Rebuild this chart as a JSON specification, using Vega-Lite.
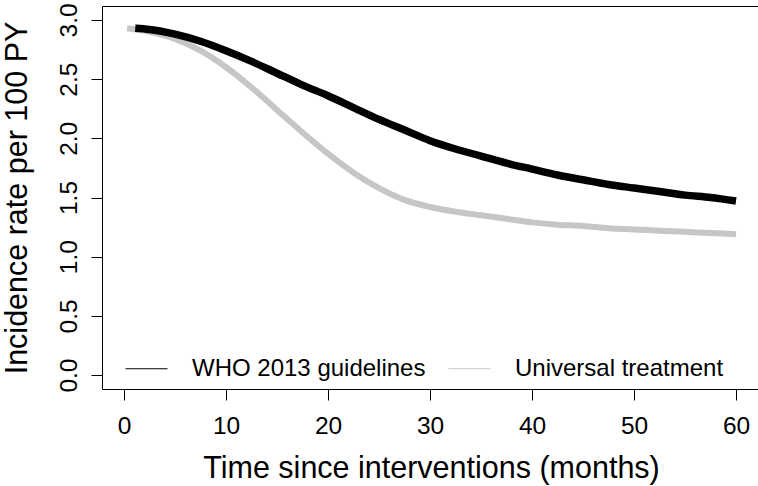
{
  "$schema": "https://vega.github.io/schema/vega-lite/v6.json",
  "width": 658,
  "height": 383,
  "autosize": {"type": "none"},
  "padding": {"left": 102, "top": 6, "right": 0, "bottom": 97},
  "background": "white",
  "config": {
    "view": {"stroke": "black", "strokeWidth": 1},
    "font": "Liberation Sans",
    "axis": {
      "grid": false,
      "domain": false,
      "tickColor": "black",
      "tickWidth": 1,
      "tickSize": 11,
      "labelColor": "black",
      "titleColor": "black",
      "labelFont": "Liberation Sans",
      "titleFont": "Liberation Sans",
      "labelFontSize": 24.5,
      "titleFontSize": 30.5,
      "titleFontWeight": "normal",
      "labelFlush": false,
      "labelOverlap": false
    },
    "legend": {"symbolStrokeWidth": 1}
  },
  "data": {
    "values": [
      {"t": 1.1, "rate": 2.93, "series": "WHO 2013 guidelines"},
      {"t": 2.5, "rate": 2.92, "series": "WHO 2013 guidelines"},
      {"t": 5, "rate": 2.88, "series": "WHO 2013 guidelines"},
      {"t": 7.5, "rate": 2.82, "series": "WHO 2013 guidelines"},
      {"t": 10, "rate": 2.74, "series": "WHO 2013 guidelines"},
      {"t": 12.5, "rate": 2.65, "series": "WHO 2013 guidelines"},
      {"t": 15, "rate": 2.55, "series": "WHO 2013 guidelines"},
      {"t": 17.5, "rate": 2.45, "series": "WHO 2013 guidelines"},
      {"t": 20, "rate": 2.36, "series": "WHO 2013 guidelines"},
      {"t": 22.5, "rate": 2.26, "series": "WHO 2013 guidelines"},
      {"t": 25, "rate": 2.16, "series": "WHO 2013 guidelines"},
      {"t": 27.5, "rate": 2.07, "series": "WHO 2013 guidelines"},
      {"t": 30, "rate": 1.98, "series": "WHO 2013 guidelines"},
      {"t": 32.5, "rate": 1.91, "series": "WHO 2013 guidelines"},
      {"t": 35, "rate": 1.85, "series": "WHO 2013 guidelines"},
      {"t": 37.5, "rate": 1.79, "series": "WHO 2013 guidelines"},
      {"t": 40, "rate": 1.74, "series": "WHO 2013 guidelines"},
      {"t": 42.5, "rate": 1.69, "series": "WHO 2013 guidelines"},
      {"t": 45, "rate": 1.65, "series": "WHO 2013 guidelines"},
      {"t": 47.5, "rate": 1.61, "series": "WHO 2013 guidelines"},
      {"t": 50, "rate": 1.58, "series": "WHO 2013 guidelines"},
      {"t": 52.5, "rate": 1.55, "series": "WHO 2013 guidelines"},
      {"t": 55, "rate": 1.52, "series": "WHO 2013 guidelines"},
      {"t": 57.5, "rate": 1.5, "series": "WHO 2013 guidelines"},
      {"t": 60, "rate": 1.47, "series": "WHO 2013 guidelines"},
      {"t": 0.3, "rate": 2.93, "series": "Universal treatment"},
      {"t": 2.5, "rate": 2.9, "series": "Universal treatment"},
      {"t": 5, "rate": 2.84, "series": "Universal treatment"},
      {"t": 7.5, "rate": 2.74, "series": "Universal treatment"},
      {"t": 10, "rate": 2.6, "series": "Universal treatment"},
      {"t": 12.5, "rate": 2.43, "series": "Universal treatment"},
      {"t": 15, "rate": 2.24, "series": "Universal treatment"},
      {"t": 17.5, "rate": 2.05, "series": "Universal treatment"},
      {"t": 20, "rate": 1.87, "series": "Universal treatment"},
      {"t": 22.5, "rate": 1.71, "series": "Universal treatment"},
      {"t": 25, "rate": 1.58, "series": "Universal treatment"},
      {"t": 27.5, "rate": 1.48, "series": "Universal treatment"},
      {"t": 30, "rate": 1.42, "series": "Universal treatment"},
      {"t": 32.5, "rate": 1.38, "series": "Universal treatment"},
      {"t": 35, "rate": 1.35, "series": "Universal treatment"},
      {"t": 37.5, "rate": 1.32, "series": "Universal treatment"},
      {"t": 40, "rate": 1.29, "series": "Universal treatment"},
      {"t": 42.5, "rate": 1.27, "series": "Universal treatment"},
      {"t": 45, "rate": 1.26, "series": "Universal treatment"},
      {"t": 47.5, "rate": 1.24, "series": "Universal treatment"},
      {"t": 50, "rate": 1.23, "series": "Universal treatment"},
      {"t": 52.5, "rate": 1.22, "series": "Universal treatment"},
      {"t": 55, "rate": 1.21, "series": "Universal treatment"},
      {"t": 57.5, "rate": 1.2, "series": "Universal treatment"},
      {"t": 60, "rate": 1.19, "series": "Universal treatment"}
    ]
  },
  "encoding": {
    "x": {
      "field": "t",
      "type": "quantitative",
      "scale": {"domain": [-2.16, 62.35], "nice": false, "zero": false},
      "axis": {
        "values": [0, 10, 20, 30, 40, 50, 60],
        "title": "Time since interventions (months)",
        "labelBaseline": "alphabetic",
        "labelPadding": 33,
        "titleBaseline": "alphabetic",
        "titlePadding": 40
      }
    },
    "y": {
      "field": "rate",
      "type": "quantitative",
      "scale": {"domain": [-0.118, 3.118], "nice": false, "zero": false},
      "axis": {
        "values": [0, 0.5, 1, 1.5, 2, 2.5, 3],
        "format": ".1f",
        "title": "Incidence rate per 100 PY",
        "labelAngle": -90,
        "labelAlign": "center",
        "labelBaseline": "alphabetic",
        "labelPadding": 15,
        "titleBaseline": "alphabetic",
        "titlePadding": 30
      }
    },
    "color": {
      "field": "series",
      "type": "nominal",
      "scale": {
        "domain": ["WHO 2013 guidelines", "Universal treatment"],
        "range": ["black", "#c6c6c6"]
      },
      "legend": {
        "title": null,
        "orient": "none",
        "direction": "horizontal",
        "legendX": 23,
        "legendY": 341,
        "padding": 0,
        "symbolType": "stroke",
        "symbolSize": 1764,
        "symbolStrokeWidth": 1,
        "labelFont": "Liberation Sans",
        "labelFontSize": 24,
        "labelColor": "black",
        "labelLimit": 0,
        "labelOffset": 24,
        "columnPadding": 20,
        "encode": {"symbols": {"update": {"strokeWidth": {"value": 1}}}}
      }
    }
  },
  "layer": [
    {
      "transform": [{"filter": "datum.series === 'Universal treatment'"}],
      "mark": {"type": "line", "strokeWidth": 6, "strokeCap": "butt", "strokeJoin": "round", "interpolate": "monotone"}
    },
    {
      "transform": [{"filter": "datum.series === 'WHO 2013 guidelines'"}],
      "mark": {"type": "line", "strokeWidth": 7.5, "strokeCap": "butt", "strokeJoin": "round", "interpolate": "monotone"}
    }
  ]
}
